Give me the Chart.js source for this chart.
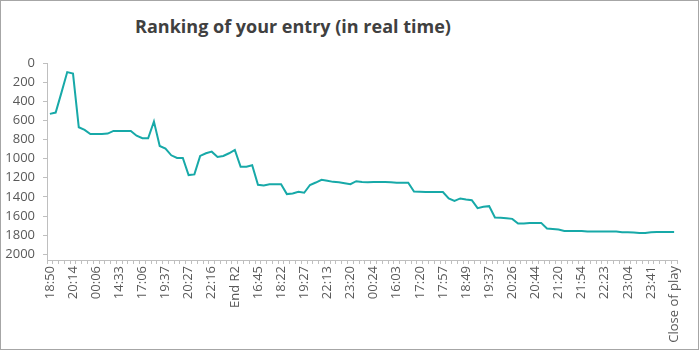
<!DOCTYPE html>
<html>
<head>
<meta charset="utf-8">
<script src="https://cdn.jsdelivr.net/npm/chart.js@4"></script>
<style>
  body { margin: 0; background: #fff; }
  #frame {
    position: relative;
    width: 699px; height: 350px;
    box-sizing: border-box;
    border: 1px solid #a6a6a6;
    background: #fff;
  }
  #title {
    position: absolute;
    left: 0; width: 584px; top: 13px;
    text-align: center;
    font-family: "Open Sans", sans-serif;
    font-weight: 700;
    font-size: 18px;
    color: #404040;
  }
  #wrap { position: absolute; left: -1px; top: -1px; width: 699px; height: 350px; }
</style>
</head>
<body>
<div id="frame">
  <div id="title">Ranking of your entry (in real time)</div>
  <div id="wrap"><canvas id="rankChart"></canvas></div>
</div>
<script>
// tick labels, one every 4 snapshots
const tickLabels = ['18:50', '20:14', '00:06', '14:33', '17:06', '19:37', '20:27', '22:16', 'End R2',
    '16:45', '18:22', '19:27', '22:13', '23:20', '00:24', '16:03', '17:20', '17:57', '18:49',
    '19:37', '20:26', '20:44', '21:20', '21:54', '22:23', '23:04', '23:41', 'Close of play'];

// ranking at each snapshot
const ranking = [532, 518, 310, 95, 110, 672, 700, 742, 742, 742,
    738, 710, 710, 710, 710, 760, 787, 787, 612, 868,
    896, 965, 993, 993, 1172, 1165, 972, 944, 927, 983,
    972, 944, 909, 1085, 1085, 1070, 1273, 1280, 1268, 1268,
    1268, 1371, 1364, 1347, 1357, 1276, 1250, 1221, 1231, 1243,
    1247, 1257, 1267, 1236, 1245, 1248, 1245, 1245, 1245, 1248,
    1252, 1252, 1252, 1343, 1347, 1350, 1350, 1350, 1350, 1416,
    1441, 1416, 1427, 1434, 1518, 1504, 1497, 1616, 1619, 1623,
    1630, 1679, 1679, 1672, 1672, 1672, 1731, 1735, 1742, 1756,
    1756, 1756, 1756, 1763, 1763, 1763, 1763, 1763, 1763, 1770,
    1770, 1773, 1777, 1777, 1770, 1766, 1766, 1766, 1766];

const yTicks = [0, 200, 400, 600, 800, 1000, 1200, 1400, 1600, 1800, 2000];

const categories = ranking.map((v, i) => (i % 4 === 0 ? tickLabels[i / 4] : ''));

const axisGray = '#bfbfbf';
const textGray = '#595959';

new Chart(document.getElementById('rankChart'), {
    type: 'line',
    data: {
        labels: categories,
        datasets: [{
            data: ranking,
            borderColor: '#17a9a8',
            borderWidth: 2,
            pointRadius: 0,
            tension: 0,
            fill: false
        }]
    },
    options: {
        responsive: true,
        maintainAspectRatio: false,
        animation: false,
        layout: { padding: { top: 63, right: 22, left: 0, bottom: 0 } },
        plugins: {
            legend: { display: false },
            tooltip: { enabled: false }
        },
        scales: {
            x: {
                offset: true,
                grid: {
                    offset: true,
                    drawOnChartArea: false,
                    tickLength: 4,
                    color: axisGray
                },
                border: { color: axisGray },
                ticks: {
                    autoSkip: false,
                    maxRotation: 90,
                    minRotation: 90,
                    padding: 2,
                    color: textGray,
                    font: { family: 'Open Sans', size: 13 }
                },
                afterFit: scale => { scale.height = 90; }
            },
            y: {
                reverse: true,
                min: 0,
                max: 2060,
                afterBuildTicks: scale => {
                    scale.ticks = yTicks.map(v => ({ value: v }));
                },
                grid: {
                    drawOnChartArea: false,
                    tickLength: 4,
                    color: axisGray
                },
                border: { color: axisGray },
                ticks: {
                    padding: 8,
                    color: textGray,
                    font: { family: 'Open Sans', size: 13 },
                    callback: value => String(value)
                },
                afterFit: scale => { scale.width = 47; }
            }
        }
    }
});
</script>
</body>
</html>
